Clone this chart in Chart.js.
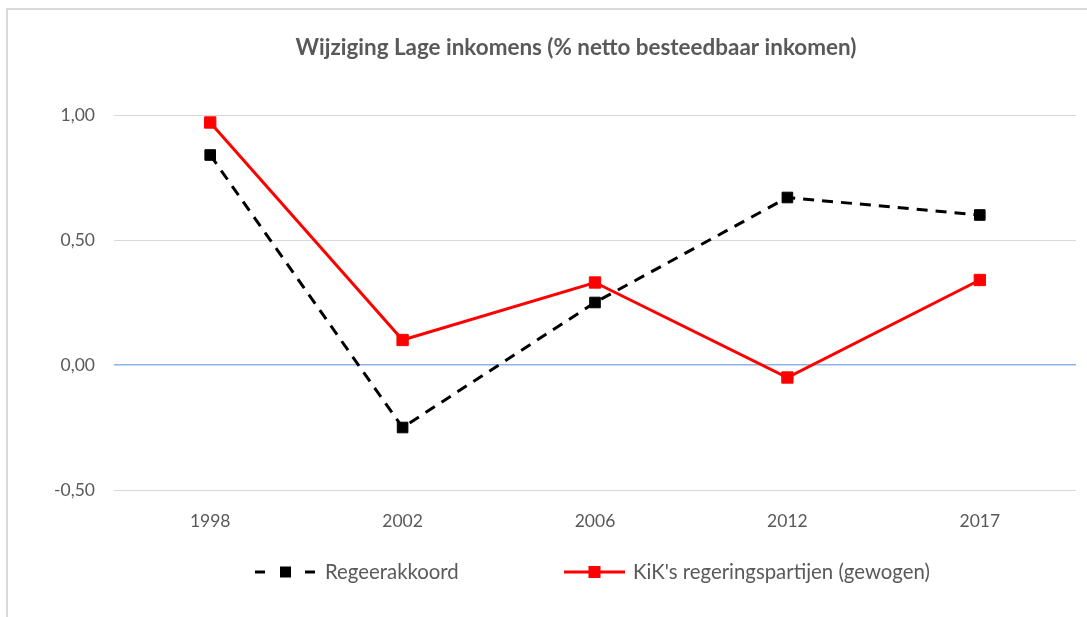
<!DOCTYPE html>
<html><head><meta charset="utf-8">
<script src="https://cdn.jsdelivr.net/npm/chart.js@4.4.1/dist/chart.umd.min.js"></script>
<style>html,body{margin:0;padding:0;background:#fff}#wrap{width:1087px;height:617px;position:relative}canvas{display:block}</style>
</head><body><div id="wrap"><canvas id="c" width="1087" height="617"></canvas></div>
<script>
// ---- data ----
const categories = ['1998', '2002', '2006', '2012', '2017'];
const regeerakkoord = [0.84, -0.25, 0.25, 0.67, 0.60];
const kikPartijen = [0.97, 0.10, 0.33, -0.05, 0.34];
const seriesNames = ['Regeerakkoord', "KiK's regeringspartijen (gewogen)"];
const yTicks = [-0.5, 0, 0.5, 1.0];
const chartTitle = 'Wijziging Lage inkomens (% netto besteedbaar inkomen)';

// ---- styling / layout ----
const FONT = 'Lato, "Open Sans", sans-serif';
const TEXT = '#595959';
const GRID = '#d9d9d9';
const ZERO = '#8eb4e3';

function fitFont(ctx, text, weight, target) {
  ctx.save();
  ctx.font = weight + ' 100px ' + FONT;
  const w = ctx.measureText(text).width;
  ctx.restore();
  return 100 * target / w;
}

const decor = {
  id: 'decor',
  beforeDraw(chart) {
    const ctx = chart.ctx;
    ctx.save();
    ctx.fillStyle = '#fff';
    ctx.fillRect(0, 0, chart.width, chart.height);
    ctx.strokeStyle = '#d9d9d9';
    ctx.lineWidth = 2;
    ctx.beginPath();
    ctx.moveTo(7, chart.height);
    ctx.lineTo(7, 9);
    ctx.lineTo(chart.width, 9);
    ctx.stroke();
    ctx.restore();
  },
  afterDraw(chart) {
    const ctx = chart.ctx;
    ctx.save();
    // title
    const ts = fitFont(ctx, chartTitle, 'bold', 561);
    ctx.font = 'bold ' + ts + 'px ' + FONT;
    ctx.fillStyle = TEXT;
    ctx.textAlign = 'center';
    ctx.textBaseline = 'middle';
    ctx.fillText(chartTitle, 576, 48);
    // legend
    const items = [
      {x0: 255, x1: 316, tx: 325, tw: 131},
      {x0: 564, x1: 625, tx: 633, tw: 297}
    ];
    const ly = 572;
    const ls = fitFont(ctx, chart.data.datasets[1].label, 'normal', items[1].tw);
    chart.data.datasets.forEach((ds, i) => {
      const it = items[i];
      ctx.save();
      ctx.strokeStyle = ds.borderColor;
      ctx.lineWidth = ds.borderWidth;
      ctx.setLineDash(ds.legendDash || []);
      ctx.lineCap = 'butt';
      ctx.beginPath();
      ctx.moveTo(it.x0, ly);
      ctx.lineTo(it.x1, ly);
      ctx.stroke();
      ctx.restore();
      const s = ds.legendMarker;
      const cx = (it.x0 + it.x1) / 2;
      ctx.fillStyle = ds.pointBackgroundColor;
      ctx.fillRect(cx - s / 2, ly - s / 2, s, s);
      ctx.font = 'normal ' + ls + 'px ' + FONT;
      ctx.fillStyle = TEXT;
      ctx.textAlign = 'left';
      ctx.textBaseline = 'middle';
      ctx.fillText(ds.label, it.tx, ly);
    });
    ctx.restore();
  }
};

new Chart(document.getElementById('c'), {
  type: 'line',
  data: {
    labels: categories,
    datasets: [
      {
        label: seriesNames[0],
        data: regeerakkoord,
        borderColor: '#000000',
        backgroundColor: '#000000',
        pointBackgroundColor: '#000000',
        pointBorderColor: '#000000',
        borderWidth: 3,
        borderDash: [11, 8],
        legendDash: [10, 15],
        legendMarker: 11,
        pointStyle: 'rect',
        pointRadius: 7.5,
        pointBorderWidth: 1,
        tension: 0,
        fill: false
      },
      {
        label: seriesNames[1],
        data: kikPartijen,
        borderColor: '#ff0000',
        backgroundColor: '#ff0000',
        pointBackgroundColor: '#ff0000',
        pointBorderColor: '#ff0000',
        borderWidth: 3,
        legendMarker: 12,
        pointStyle: 'rect',
        pointRadius: 8,
        pointBorderWidth: 1,
        tension: 0,
        fill: false
      }
    ]
  },
  options: {
    responsive: false,
    animation: false,
    devicePixelRatio: 1,
    layout: {padding: {left: 0, right: 11, top: 115, bottom: 80}},
    plugins: {
      legend: {display: false},
      title: {display: false},
      tooltip: {enabled: false}
    },
    scales: {
      x: {
        type: 'category',
        offset: true,
        grid: {display: false, drawTicks: false},
        border: {display: false},
        ticks: {color: TEXT, font: {family: FONT, size: 17.5}, padding: 21, maxRotation: 0},
        afterFit(scale) { scale.height = 47; }
      },
      y: {
        min: yTicks[0],
        max: yTicks[yTicks.length - 1],
        afterBuildTicks(scale) { scale.ticks = yTicks.map(v => ({value: v})); },
        grid: {
          drawTicks: false,
          color: c => (c.tick && c.tick.value === 0) ? ZERO : GRID,
          lineWidth: c => (c.tick && c.tick.value === 0) ? 1.5 : 1
        },
        border: {display: false},
        ticks: {
          color: TEXT,
          font: {family: FONT, size: 17.5},
          padding: 19,
          callback: v => v.toFixed(2).replace('.', ',')
        },
        afterFit(scale) { scale.width = 114; }
      }
    }
  },
  plugins: [decor]
});
</script>
</body></html>
